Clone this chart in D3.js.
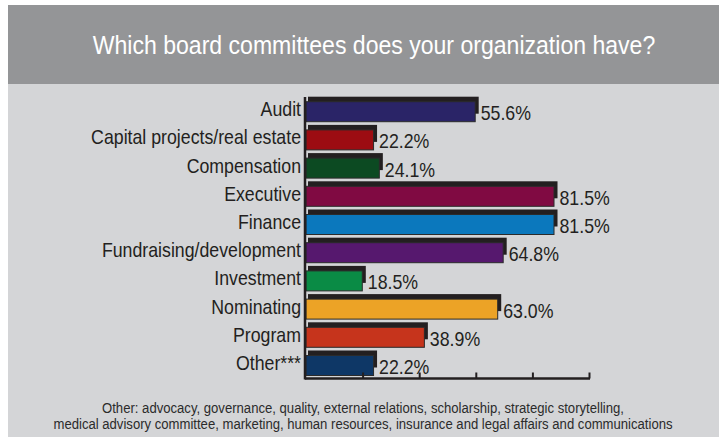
<!DOCTYPE html>
<html>
<head>
<meta charset="utf-8">
<script src="https://cdn.jsdelivr.net/npm/d3@7"></script>
<style>
  html, body { margin: 0; padding: 0; background: #ffffff; }
  svg { display: block; }
</style>
</head>
<body>
<svg id="chart" width="723" height="437"></svg>
<script>
// Survey results: share of organizations with each board committee
const categories = [
  "Audit",
  "Capital projects/real estate",
  "Compensation",
  "Executive",
  "Finance",
  "Fundraising/development",
  "Investment",
  "Nominating",
  "Program",
  "Other***"
];
const values = [55.6, 22.2, 24.1, 81.5, 81.5, 64.8, 18.5, 63.0, 38.9, 22.2];
const barColors = [
  "#2a2467", "#9c0c12", "#0c4a22", "#800a42", "#0b78bd",
  "#56186e", "#0a8b45", "#eca326", "#c6341c", "#0e3766"
];
const titleText = "Which board committees does your organization have?";
const footnoteLines = [
  "Other: advocacy, governance, quality, external relations, scholarship, strategic storytelling,",
  "medical advisory committee, marketing, human resources, insurance and legal affairs and communications"
];
const axisMax = 93;
const tickCount = 5;

// Condensed look: a regular sans face squeezed horizontally
const FONT = "'Liberation Sans', Arial, sans-serif";
const SQUEEZE = 0.887;
const INK = "#231f20";

const svg = d3.select("#chart");

// places a text at (x, y) with horizontal squeeze
function placeText(sel, fx, fy) {
  sel.attr("transform", (d, i) => `translate(${fx(d, i)},${fy(d, i)}) scale(${SQUEEZE},1)`);
}

// panel and header band
svg.append("rect").attr("x", 8).attr("y", 5).attr("width", 711).attr("height", 432).attr("fill", "#d4d5d7");
svg.append("rect").attr("x", 8).attr("y", 5).attr("width", 711).attr("height", 79).attr("fill", "#949597");

svg.append("text")
  .datum(titleText)
  .attr("text-anchor", "middle")
  .attr("font-family", FONT).attr("font-size", 26)
  .attr("fill", "#ffffff")
  .text(d => d)
  .call(placeText, () => 374, () => 54);

// scales
const x = d3.scaleLinear().domain([0, axisMax]).range([306, 589]);
const y = d3.scaleBand().domain(categories).range([97.6, 379.6]).padding(0);
const barH = 20;
const rows = categories.map((c, i) => ({ cat: c, val: values[i], color: barColors[i] }));
const barTop = d => y(d.cat) + (y.bandwidth() - barH) / 2;

const g = svg.append("g");

// dark offset backing for each bar
g.selectAll("rect.shadow").data(rows).join("rect")
  .attr("class", "shadow")
  .attr("x", x(0) + 2)
  .attr("y", d => barTop(d) - 5)
  .attr("width", d => x(d.val) + 3.5 - (x(0) + 2))
  .attr("height", barH - 3)
  .attr("fill", INK);

// coloured bars
g.selectAll("rect.bar").data(rows).join("rect")
  .attr("class", "bar")
  .attr("x", x(0))
  .attr("y", d => barTop(d))
  .attr("width", d => x(d.val) - x(0))
  .attr("height", barH)
  .attr("fill", d => d.color)
  .attr("stroke", "#2b2b2b")
  .attr("stroke-width", 1);

// value labels
g.selectAll("text.val").data(rows).join("text")
  .attr("class", "val")
  .attr("font-family", FONT).attr("font-size", 20)
  .attr("fill", INK)
  .text(d => d.val.toFixed(1) + "%")
  .call(placeText, d => x(d.val) + 5.5, d => barTop(d) + barH - 1.5);

// category labels
g.selectAll("text.cat").data(rows).join("text")
  .attr("class", "cat")
  .attr("text-anchor", "end")
  .attr("font-family", FONT).attr("font-size", 20)
  .attr("fill", INK)
  .text(d => d.cat)
  .call(placeText, () => 301, d => barTop(d) + 14.5);

// axes
const xAxis = d3.axisTop(x)
  .tickValues(d3.range(1, tickCount + 1).map(i => axisMax * i / tickCount))
  .tickSize(6)
  .tickFormat("");
const ax = svg.append("g").attr("transform", "translate(0,378.5)").call(xAxis);
ax.select(".domain").remove();
ax.selectAll(".tick line").attr("stroke", INK).attr("stroke-width", 2);
svg.append("line")
  .attr("x1", x(0) - 1).attr("x2", x(axisMax) + 1)
  .attr("y1", 378.5).attr("y2", 378.5)
  .attr("stroke", INK).attr("stroke-width", 2.5);
svg.append("line")
  .attr("x1", x(0) - 1).attr("x2", x(0) - 1)
  .attr("y1", 97).attr("y2", 379.5)
  .attr("stroke", INK).attr("stroke-width", 2.5);

// footnote
svg.selectAll("text.note").data(footnoteLines).join("text")
  .attr("class", "note")
  .attr("text-anchor", "middle")
  .attr("font-family", FONT).attr("font-size", 14.8)
  .attr("fill", "#2b2b2b")
  .text(d => d)
  .call(placeText, () => 363, (d, i) => 413 + i * 16);
</script>
</body>
</html>
